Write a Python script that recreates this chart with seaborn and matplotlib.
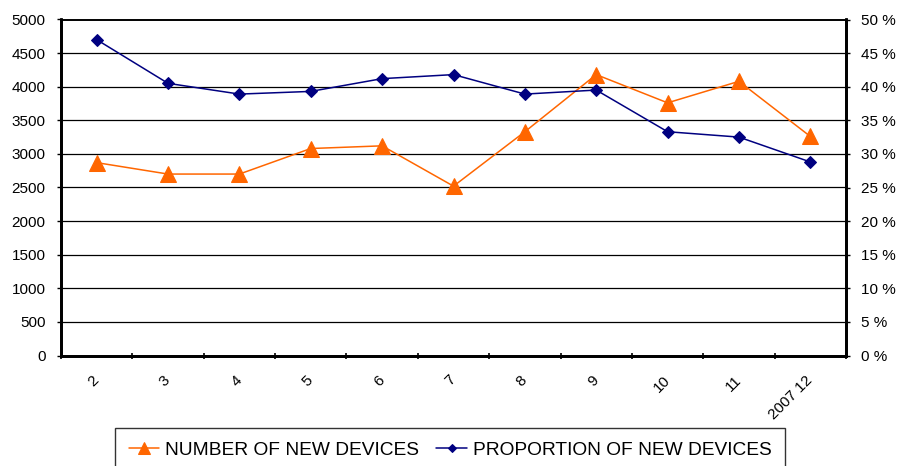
import matplotlib
matplotlib.use("Agg")
import matplotlib.pyplot as plt
from matplotlib.ticker import FixedLocator, MultipleLocator, FuncFormatter
import seaborn as sns
import pandas as pd
import numpy as np

# Monthly figures
months = ["2", "3", "4", "5", "6", "7", "8", "9", "10", "11", "2007 12"]
new_devices = [2870, 2700, 2700, 3080, 3120, 2520, 3330, 4180, 3760, 4080, 3260]
new_share_pct = [47.0, 40.5, 38.9, 39.3, 41.2, 41.8, 38.9, 39.5, 33.3, 32.5, 28.8]

series_names = ["NUMBER OF NEW DEVICES", "PROPORTION OF NEW DEVICES"]
orange = "#FF6600"
navy = "#000080"

sns.set_theme(style="white")
plt.rcParams["font.family"] = ["Liberation Sans", "DejaVu Sans"]

df = pd.DataFrame({
    "pos": np.arange(len(months)),
    "month": months,
    "devices": new_devices,
    "share": new_share_pct,
})

fig = plt.figure(figsize=(8.99, 4.66), dpi=100)
W, H = 899, 466
left, right, top, bottom = 61, 846, 19.5, 355.5
ax = fig.add_axes([left / W, 1 - bottom / H, (right - left) / W, (bottom - top) / H])
ax2 = ax.twinx()

# horizontal gridlines
ax.set_ylim(0, 5000)
ax.yaxis.set_major_locator(MultipleLocator(500))
ax.grid(axis="y", color="black", linewidth=0.9)
ax.grid(axis="x", visible=False)
ax.set_axisbelow(True)

sns.lineplot(data=df, x="pos", y="devices", ax=ax, color=orange, linewidth=1.1,
             marker="^", markersize=11, markeredgecolor=orange,
             label=series_names[0], legend=False)
sns.lineplot(data=df, x="pos", y="share", ax=ax2, color=navy, linewidth=1.1,
             marker="D", markersize=6, markeredgecolor=navy,
             label=series_names[1], legend=False)

ax.set_xlim(-0.5, len(months) - 0.5)
ax2.set_ylim(0, 50)
ax2.yaxis.set_major_locator(MultipleLocator(5))
ax2.yaxis.set_major_formatter(FuncFormatter(lambda v, p: f"{int(round(v))} %"))
ax2.grid(False)

for a in (ax, ax2):
    a.set_xlabel("")
    a.set_ylabel("")
    for s in ("left", "right", "bottom"):
        a.spines[s].set_color("black")
        a.spines[s].set_linewidth(2)
    a.spines["top"].set_color("black")
    a.spines["top"].set_linewidth(1.2)

# category labels between boundary ticks
ax.xaxis.set_major_locator(FixedLocator(df["pos"].tolist()))
ax.set_xticklabels(months, rotation=45, ha="right", va="center",
                   rotation_mode="anchor", fontsize=11)
ax.xaxis.set_minor_locator(FixedLocator(np.arange(-0.5, len(months), 1.0)))
ax.tick_params(axis="x", which="major", length=0, pad=16)
ax.tick_params(axis="x", which="minor", length=5, width=1.2, color="black",
               direction="inout", bottom=True)
ax.tick_params(axis="y", labelsize=11, length=3, width=1, color="black",
               left=True, pad=8, labelcolor="black")
ax2.tick_params(axis="y", labelsize=11, length=3, width=1, color="black",
                right=True, pad=8, labelcolor="black")
for lbl in ax.get_xticklabels():
    lbl.set_color("black")

h1, l1 = ax.get_legend_handles_labels()
h2, l2 = ax2.get_legend_handles_labels()
leg = fig.legend(h1 + h2, l1 + l2, loc="upper center",
                 bbox_to_anchor=(450 / W, 1 - 428 / H), borderaxespad=0,
                 ncol=2, fontsize=13.8, frameon=True, fancybox=False,
                 borderpad=0.7, handlelength=1.6, handletextpad=0.3,
                 columnspacing=0.9, markerscale=0.75)
leg.get_frame().set_edgecolor("black")
leg.get_frame().set_linewidth(1.0)
for t in leg.get_texts():
    t.set_color("black")

fig.savefig("out.png", dpi=100)
